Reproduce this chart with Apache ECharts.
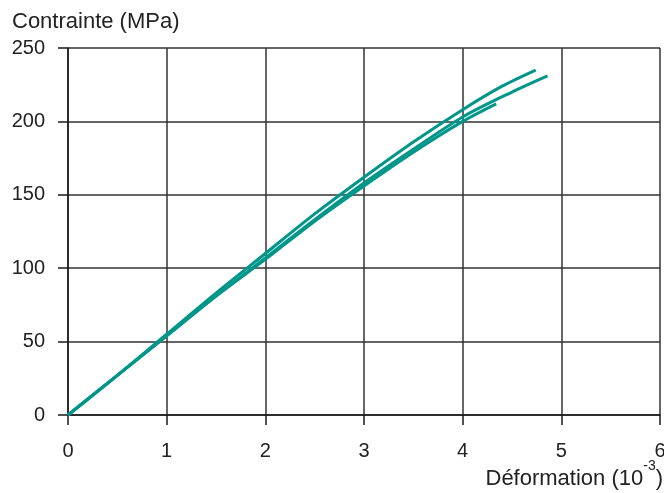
<!DOCTYPE html>
<html><head><meta charset="utf-8">
<script src="https://cdn.jsdelivr.net/npm/echarts@6/dist/echarts.min.js"></script>
<style>html,body{margin:0;padding:0;background:#fff}#c{width:664px;height:493px}</style>
</head><body><div id="c"></div>
<script>
const xTicks = [0,1,2,3,4,5,6];
const yTicks = [0,50,100,150,200,250];
const strainA = [0,0.5,1,1.5,2,2.5,3,3.5,4,4.4,4.74];
const stressA = [0,27,55,83,110,137,162,186,208,224,235];
const strainB = [0,0.5,1,1.5,2,2.5,3,3.5,4,4.5,4.86];
const stressB = [0,27,54,81,107,133,158,181,203,220,231];
const strainC = [0,0.5,1,1.5,2,2.5,3,3.5,4,4.34];
const stressC = [0,27,54,81,106,132,156,179,200,212];
const yTitle = 'Contrainte (MPa)';
const xTitle = 'Déformation (10';
const xTitleExp = '-3';
const xTitleEnd = ')';

const chart = echarts.init(document.getElementById('c'));
const font = 'Liberation Sans, Arial, sans-serif';
const teal = '#009689';
const ctx = document.createElement('canvas').getContext('2d');
function tw(t, size){ ctx.font = size + 'px ' + font; return ctx.measureText(t).width; }
function pairs(xs, ys){ return xs.map((x,i)=>[x, ys[i]]); }
function ser(xs, ys){
  return {type:'line', data:pairs(xs,ys), smooth:0.3, showSymbol:false, symbol:'none',
    lineStyle:{color:teal, width:3}, animation:false};
}
const endX = 663;
const x1 = endX - tw(xTitleEnd, 22);
const x2 = x1 - tw(xTitleExp, 14);
chart.setOption({
  animation:false,
  grid:{left:68, right:4, top:48, bottom:78, outerBoundsMode:'none', containLabel:false},
  xAxis:{type:'value', min:xTicks[0], max:xTicks[xTicks.length-1], interval:1,
    axisLine:{show:true, onZero:false, lineStyle:{color:'#1a1a1a', width:1.5}},
    axisTick:{show:true, inside:false, length:10, lineStyle:{color:'#1a1a1a', width:1.5}},
    axisLabel:{color:'#222', fontFamily:font, fontSize:20, margin:26},
    splitLine:{show:true, lineStyle:{color:'#333', width:1.5}}},
  yAxis:{type:'value', min:yTicks[0], max:yTicks[yTicks.length-1], interval:50,
    axisLine:{show:true, onZero:false, lineStyle:{color:'#1a1a1a', width:1.5}},
    axisTick:{show:true, inside:false, length:10, lineStyle:{color:'#1a1a1a', width:1.5}},
    axisLabel:{color:'#222', fontFamily:font, fontSize:20, margin:23},
    splitLine:{show:true, lineStyle:{color:'#333', width:1.5}}},
  graphic:[
    {type:'text', left:12, top:11, style:{text:yTitle, fill:'#222', fontFamily:font, fontSize:22, lineHeight:22}},
    {type:'text', x:endX, y:479, style:{text:xTitleEnd, fill:'#222', fontFamily:font, fontSize:22, align:'right', verticalAlign:'middle'}},
    {type:'text', x:x1, y:466, style:{text:xTitleExp, fill:'#222', fontFamily:font, fontSize:14, align:'right', verticalAlign:'middle'}},
    {type:'text', x:x2, y:479, style:{text:xTitle, fill:'#222', fontFamily:font, fontSize:22, align:'right', verticalAlign:'middle'}}
  ],
  series:[ser(strainA,stressA), ser(strainB,stressB), ser(strainC,stressC)]
});
</script></body></html>
